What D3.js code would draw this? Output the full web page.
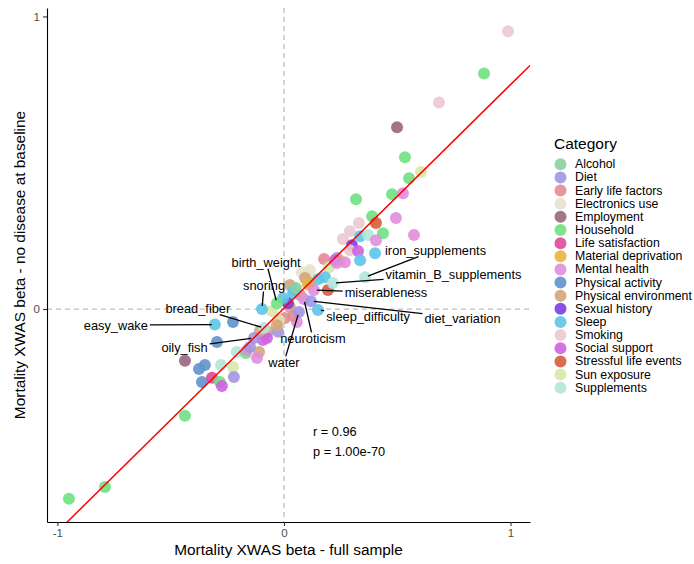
<!DOCTYPE html>
<html>
<head>
<meta charset="utf-8">
<script src="https://cdn.jsdelivr.net/npm/d3@7"></script>
<style>
body { margin: 0; background: #fff; }
text { font-family: "Liberation Sans", Arial, Helvetica, sans-serif; }
</style>
</head>
<body>
<script>
//categories and their colours (legend order)
var categories = ["Alcohol", "Diet", "Early life factors", "Electronics use", "Employment",
  "Household", "Life satisfaction", "Material deprivation", "Mental health", "Physical activity",
  "Physical environment", "Sexual history", "Sleep", "Smoking", "Social support",
  "Stressful life events", "Sun exposure", "Supplements"];
var categoryColors = ["#8ccfa3", "#a196e2", "#e38a97", "#e5e2cb", "#9a6581",
  "#6fe07f", "#e04a98", "#e8b53e", "#e08ddd", "#6292d0",
  "#d4a57b", "#7a3ee0", "#5ec4e8", "#ebc9d1", "#cf62e0",
  "#d65c3c", "#d8e8a8", "#b3e6db"];

//unlabelled exposures: category, beta full sample, beta no disease at baseline
var pointCategory = ["Smoking", "Household", "Smoking", "Employment", "Household",
  "Sun exposure", "Household", "Household", "Mental health", "Household",
  "Household", "Stressful life events", "Mental health", "Smoking", "Household",
  "Mental health", "Smoking", "Sleep", "Supplements", "Smoking",
  "Mental health", "Sexual history", "Smoking", "Social support", "Sleep",
  "Sleep", "Early life factors", "Diet", "Material deprivation", "Sun exposure",
  "Mental health", "Social support", "Stressful life events", "Sleep", "Sleep",
  "Mental health", "Electronics use", "Electronics use", "Electronics use", "Physical environment",
  "Physical environment", "Physical environment", "Physical environment", "Physical environment", "Physical environment",
  "Physical environment", "Sleep", "Sexual history", "Sun exposure", "Mental health",
  "Early life factors", "Early life factors", "Sleep", "Sleep", "Alcohol",
  "Material deprivation", "Physical activity", "Physical activity", "Employment", "Physical activity",
  "Physical activity", "Physical activity", "Supplements", "Life satisfaction", "Household",
  "Social support", "Sun exposure", "Diet", "Supplements", "Household",
  "Mental health", "Physical environment", "Diet", "Mental health", "Social support",
  "Social support", "Physical environment", "Sun exposure", "Diet", "Physical environment",
  "Household", "Household", "Household"];
var betaFull = [0.989, 0.883, 0.684, 0.499, 0.534,
  0.605, 0.552, 0.477, 0.525, 0.318,
  0.389, 0.406, 0.494, 0.331, 0.437,
  0.574, 0.291, 0.336, 0.371, 0.260,
  0.406, 0.300, 0.291, 0.327, 0.402,
  0.336, 0.177, 0.234, 0.243, 0.199,
  0.269, 0.225, 0.194, 0.181, 0.150,
  0.234, 0.079, 0.102, 0.115, 0.115,
  0.071, 0.026, -0.026, -0.071, 0.026,
  0.093, 0.040, 0.018, -0.053, 0.057,
  0.004, 0.040, -0.004, 0.044, 0.053,
  0.106, -0.225, -0.296, -0.437, -0.349,
  -0.375, -0.362, -0.278, -0.318, -0.283,
  -0.274, -0.225, -0.221, -0.208, -0.168,
  -0.163, -0.110, -0.150, -0.119, -0.093,
  -0.075, -0.106, -0.022, -0.026, -0.031,
  -0.437, -0.790, -0.949];
var betaNoDisease = [0.949, 0.805, 0.706, 0.621, 0.519,
  0.468, 0.447, 0.392, 0.396, 0.375,
  0.317, 0.294, 0.311, 0.294, 0.259,
  0.253, 0.266, 0.249, 0.253, 0.239,
  0.235, 0.218, 0.201, 0.198, 0.191,
  0.167, 0.171, 0.174, 0.167, 0.143,
  0.160, 0.167, 0.065, 0.109, 0.102,
  0.157, 0.126, 0.116, 0.133, 0.089,
  0.048, 0.007, -0.038, -0.078, 0.082,
  0.106, 0.055, 0.020, -0.007, -0.044,
  -0.031, -0.024, 0.038, 0.065, 0.072,
  0.085, -0.044, -0.113, -0.177, -0.191,
  -0.205, -0.249, -0.191, -0.235, -0.249,
  -0.263, -0.198, -0.232, -0.147, -0.150,
  -0.140, -0.147, -0.130, -0.167, -0.106,
  -0.099, -0.075, -0.038, -0.078, -0.055,
  -0.365, -0.608, -0.648];

//labelled exposures and where their labels sit
var labelVariable = ["birth_weight", "snoring", "bread_fiber", "easy_wake", "oily_fish", "neuroticism",
  "water", "iron_supplements", "vitamin_B_supplements", "miserableness", "sleep_difficulty", "diet_variation"];
var labelCategory = ["Household", "Sleep", "Supplements", "Sleep", "Diet", "Mental health",
  "Diet", "Supplements", "Supplements", "Mental health", "Sleep", "Diet"];
var labelBetaFull = [-0.031, -0.097, -0.088, -0.305, -0.132, 0.088,
  0.066, 0.358, 0.216, 0.132, 0.150, 0.119];
var labelBetaNoDisease = [0.020, 0.000, -0.065, -0.053, -0.099, 0.034,
  -0.010, 0.109, 0.089, 0.065, -0.003, 0.027];
var labelTextX = [-0.079, -0.088, -0.380, -0.742, -0.439, 0.128,
  0.000, 0.669, 0.748, 0.450, 0.371, 0.788];
var labelTextY = [0.160, 0.082, 0.003, -0.055, -0.130, -0.102,
  -0.184, 0.201, 0.119, 0.055, -0.024, -0.031];

//fitted line and correlation annotation
var fitSlope = 0.764, fitIntercept = 0.003;
var statLines = ["r = 0.96", "p = 1.00e-70"];
var statX = 0.128, statY = [-0.42, -0.488];
var tickValues = [-1, 0, 1];

var margin = {top: 8, left: 47},
  width = 483,
  height = 514;

var color = d3.scaleOrdinal().domain(categories).range(categoryColors);

//domains with 5% expansion like ggplot
var allX = betaFull.concat(labelBetaFull), allY = betaNoDisease.concat(labelBetaNoDisease);
var xExt = d3.extent(allX), yExt = d3.extent(allY);
var xPad = (xExt[1] - xExt[0]) * 0.05, yPad = (yExt[1] - yExt[0]) * 0.05;
var x = d3.scaleLinear().domain([xExt[0] - xPad, xExt[1] + xPad]).range([0, width]);
var y = d3.scaleLinear().domain([yExt[0] - yPad, yExt[1] + yPad]).range([height, 0]);

var svg = d3.select("body").append("svg")
  .attr("width", 694)
  .attr("height", 564);

var g = svg.append("g")
  .attr("transform", "translate(" + margin.left + "," + margin.top + ")");

svg.append("defs").append("clipPath").attr("id", "panel")
  .append("rect").attr("width", width).attr("height", height);

//dashed zero lines
g.append("line")
  .attr("x1", x(0)).attr("x2", x(0)).attr("y1", 0).attr("y2", height)
  .attr("stroke", "#bdbdbd").attr("stroke-width", 1.3).attr("stroke-dasharray", "5,4");
g.append("line")
  .attr("x1", 0).attr("x2", width).attr("y1", y(0)).attr("y2", y(0))
  .attr("stroke", "#bdbdbd").attr("stroke-width", 1.3).attr("stroke-dasharray", "5,4");

//points
var points = pointCategory.map(function(c, i) { return {cat: c, x: betaFull[i], y: betaNoDisease[i]}; });
var labelled = labelVariable.map(function(v, i) {
  return {name: v, cat: labelCategory[i], x: labelBetaFull[i], y: labelBetaNoDisease[i], tx: labelTextX[i], ty: labelTextY[i]};
});

g.append("g").selectAll("circle")
  .data(points.concat(labelled))
  .enter().append("circle")
  .attr("cx", function(d) { return x(d.x); })
  .attr("cy", function(d) { return y(d.y); })
  .attr("r", 6)
  .attr("fill", function(d) { return color(d.cat); })
  .attr("fill-opacity", 0.9);

//fitted line
var xd = x.domain();
g.append("line")
  .attr("clip-path", "url(#panel)")
  .attr("x1", x(xd[0])).attr("y1", y(fitIntercept + fitSlope * xd[0]))
  .attr("x2", x(xd[1])).attr("y2", y(fitIntercept + fitSlope * xd[1]))
  .attr("stroke", "#ff0000").attr("stroke-width", 1.5);

//labels with leader segments
var labelG = g.append("g");
labelled.forEach(function(d) {
  var t = labelG.append("text")
    .attr("x", x(d.tx)).attr("y", y(d.ty))
    .attr("text-anchor", "middle")
    .attr("dominant-baseline", "central")
    .style("font-size", "12.8px")
    .attr("fill", "#000")
    .text(d.name);
  var b = t.node().getBBox();
  var pad = 2;
  var cx = b.x + b.width / 2, cy = b.y + b.height / 2;
  var px = x(d.x), py = y(d.y);
  var dx = px - cx, dy = py - cy;
  var hw = b.width / 2 + pad, hh = b.height / 2 - 1;
  var s = Math.min(Math.abs(dx) > 0 ? hw / Math.abs(dx) : Infinity, Math.abs(dy) > 0 ? hh / Math.abs(dy) : Infinity);
  if (s >= 1) return;
  var sx = cx + dx * s, sy = cy + dy * s;
  var len = Math.sqrt((px - sx) * (px - sx) + (py - sy) * (py - sy));
  var ex = px - (px - sx) / len * 3, ey = py - (py - sy) / len * 3;
  labelG.insert("line", "text")
    .attr("x1", sx).attr("y1", sy).attr("x2", ex).attr("y2", ey)
    .attr("stroke", "#000").attr("stroke-width", 1.3);
});

//correlation text
g.selectAll(".stat")
  .data(statLines)
  .enter().append("text")
  .attr("class", "stat")
  .attr("x", x(statX))
  .attr("y", function(d, i) { return y(statY[i]); })
  .attr("dominant-baseline", "central")
  .style("font-size", "12.8px")
  .text(function(d) { return d; });

//axes
var fmt = function(d) { return String(d); };
var xAxis = g.append("g")
  .attr("transform", "translate(0," + height + ")")
  .call(d3.axisBottom(x).tickValues(tickValues).tickFormat(fmt).tickSize(4).tickSizeOuter(0).tickPadding(3));
var yAxis = g.append("g")
  .call(d3.axisLeft(y).tickValues(tickValues.filter(function(v) { return v >= y.domain()[0] && v <= y.domain()[1]; }))
    .tickFormat(fmt).tickSize(4).tickSizeOuter(0).tickPadding(3));
[xAxis, yAxis].forEach(function(a) {
  a.select(".domain").attr("stroke", "#000").attr("stroke-width", 1.1);
  a.selectAll(".tick line").attr("stroke", "#333").attr("stroke-width", 1.1);
  a.selectAll(".tick text").attr("fill", "#4d4d4d").style("font-size", "11.5px")
    .style("font-family", "'Liberation Sans', Arial, sans-serif");
});

//axis titles
svg.append("text")
  .attr("x", margin.left + width / 2)
  .attr("y", 555)
  .attr("text-anchor", "middle")
  .style("font-size", "15.4px")
  .text("Mortality XWAS beta - full sample");
svg.append("text")
  .attr("transform", "translate(25," + (margin.top + height / 2) + ") rotate(-90)")
  .attr("text-anchor", "middle")
  .style("font-size", "15.4px")
  .text("Mortality XWAS beta - no disease at baseline");

//legend
var legend = svg.append("g").attr("transform", "translate(554,0)");
legend.append("text")
  .attr("x", 0).attr("y", 149)
  .style("font-size", "15.5px")
  .text("Category");
var item = legend.selectAll(".key")
  .data(categories)
  .enter().append("g")
  .attr("class", "key")
  .attr("transform", function(d, i) { return "translate(0," + (164.3 + i * 13.14) + ")"; });
item.append("circle")
  .attr("cx", 6.5).attr("cy", 0).attr("r", 6)
  .attr("fill", function(d) { return color(d); })
  .attr("fill-opacity", 0.9);
item.append("text")
  .attr("x", 21).attr("y", 0)
  .attr("dominant-baseline", "central")
  .style("font-size", "12.3px")
  .text(function(d) { return d; });
</script>
</body>
</html>
